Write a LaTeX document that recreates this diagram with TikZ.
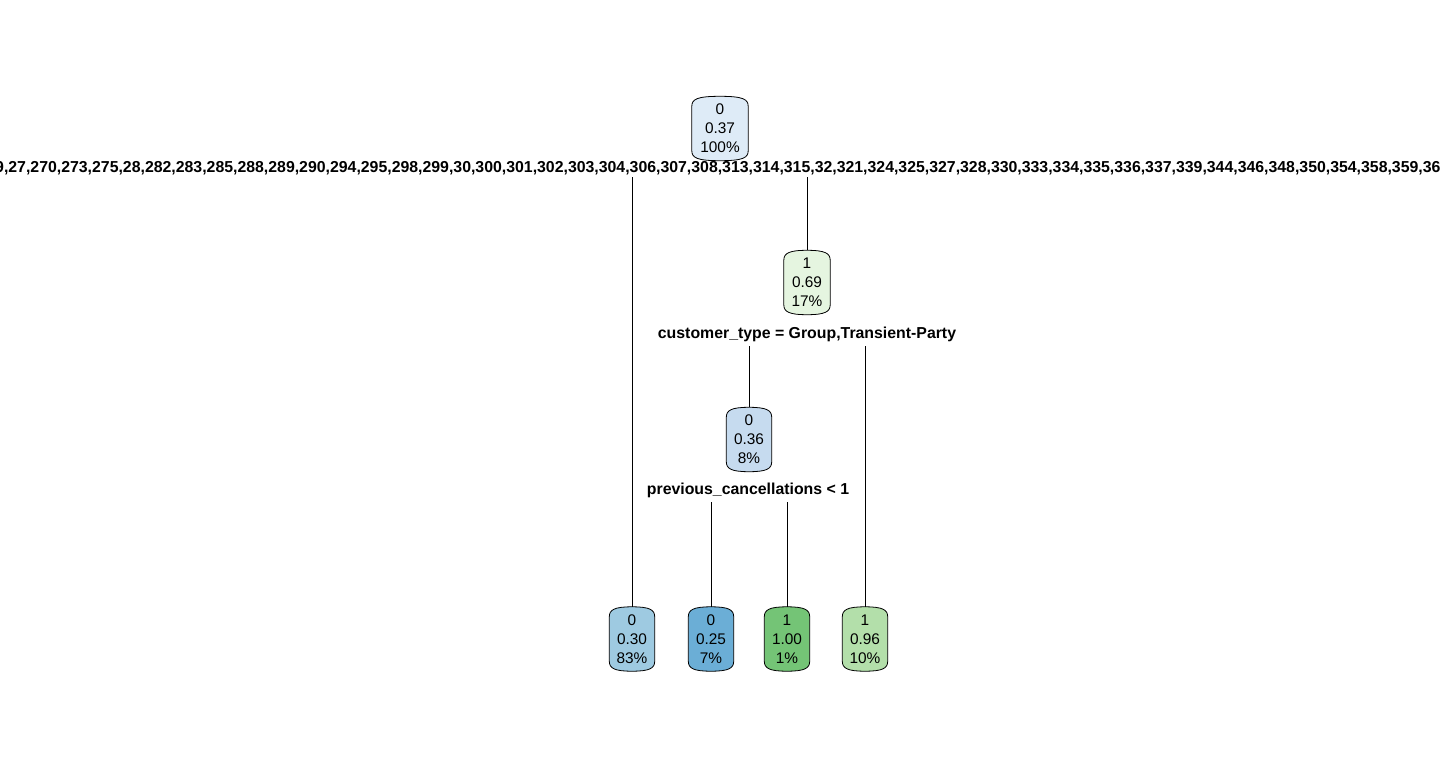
\documentclass[tikz,border=0pt]{standalone}
\usepackage{fontspec}
\setmainfont{Liberation Sans}
\usetikzlibrary{backgrounds}
\definecolor{cRoot}{HTML}{DEEBF7}
\definecolor{cSeventeen}{HTML}{E5F5E0}
\definecolor{cEight}{HTML}{C6DBEF}
\definecolor{cLeafA}{HTML}{9ECAE1}
\definecolor{cLeafB}{HTML}{6BAED6}
\definecolor{cLeafC}{HTML}{74C476}
\definecolor{cLeafD}{HTML}{B3DFAA}
\tikzset{
  treenode/.style={inner sep=0pt, minimum height=64pt, minimum width=45pt,
    align=center, font=\fontsize{15.4}{19}\selectfont},
  splitlabel/.style={inner sep=0pt, font=\fontsize{15.85}{18}\selectfont\bfseries},
  edge/.style={draw=black, line width=0.7pt},
  barrelline/.style={draw=black, line width=0.8pt}
}
% barrel outline behind a node: #1 node name, #2 fill colour
\newcommand\barrel[2]{%
  \path[barrelline, fill=#2]
    ([yshift=-10pt]#1.north west)
      .. controls ([yshift=-3pt]#1.north west) and ([xshift=5pt]#1.north west) .. (#1.north)
      .. controls ([xshift=-5pt]#1.north east) and ([yshift=-3pt]#1.north east) .. ([yshift=-10pt]#1.north east)
    -- ([yshift=10pt]#1.south east)
      .. controls ([yshift=3pt]#1.south east) and ([xshift=-5pt]#1.south east) .. (#1.south)
      .. controls ([xshift=5pt]#1.south west) and ([yshift=3pt]#1.south west) .. ([yshift=10pt]#1.south west)
    -- cycle;}
\begin{document}
\begin{tikzpicture}[x=1pt, y=-1pt]
\useasboundingbox (0,0) rectangle (1440,768);

% tree nodes
\node[treenode, minimum width=56pt] (root) at (720,128.5) {0\\0.37\\100\%};
\node[treenode, minimum width=46pt] (ctype) at (807,282.5) {1\\0.69\\17\%};
\node[treenode] (prevc) at (749,439.5) {0\\0.36\\8\%};
\node[treenode] (leafA) at (632,639) {0\\0.30\\83\%};
\node[treenode] (leafB) at (711,639) {0\\0.25\\7\%};
\node[treenode] (leafC) at (787,639) {1\\1.00\\1\%};
\node[treenode] (leafD) at (865,639) {1\\0.96\\10\%};

\begin{scope}[on background layer]
  \fill[white] (0,0) rectangle (1440,768);
  \barrel{root}{cRoot}
  \barrel{ctype}{cSeventeen}
  \barrel{prevc}{cEight}
  \barrel{leafA}{cLeafA}
  \barrel{leafB}{cLeafB}
  \barrel{leafC}{cLeafC}
  \barrel{leafD}{cLeafD}
\end{scope}

% split labels
\begin{scope}
  \clip (0,0) rectangle (1440,768);
  \node[splitlabel, anchor=west] (rootsplit) at (-5,168)
    {9,27,270,273,275,28,282,283,285,288,289,290,294,295,298,299,30,300,301,302,303,304,306,307,308,313,314,315,32,321,324,325,327,328,330,333,334,335,336,337,339,344,346,348,350,354,358,359,36};
\end{scope}
\node[splitlabel] (ctypesplit) at (807,334.5) {customer\_type = Group,Transient-Party};
\node[splitlabel] (prevsplit) at (748,490.5) {previous\_cancellations < 1};

% branch origins below the split labels
\coordinate (rootL) at (632,177);
\coordinate (rootR) at (807,177);
\coordinate (ctypeL) at (749,346);
\coordinate (ctypeR) at (865,346);
\coordinate (prevL) at (711,502);
\coordinate (prevR) at (787,502);

% branches
\draw[edge] (rootL) -- (leafA.north);
\draw[edge] (rootR) -- (ctype.north);
\draw[edge] (ctypeL) -- (prevc.north);
\draw[edge] (ctypeR) -- (leafD.north);
\draw[edge] (prevL) -- (leafB.north);
\draw[edge] (prevR) -- (leafC.north);
\end{tikzpicture}
\end{document}
